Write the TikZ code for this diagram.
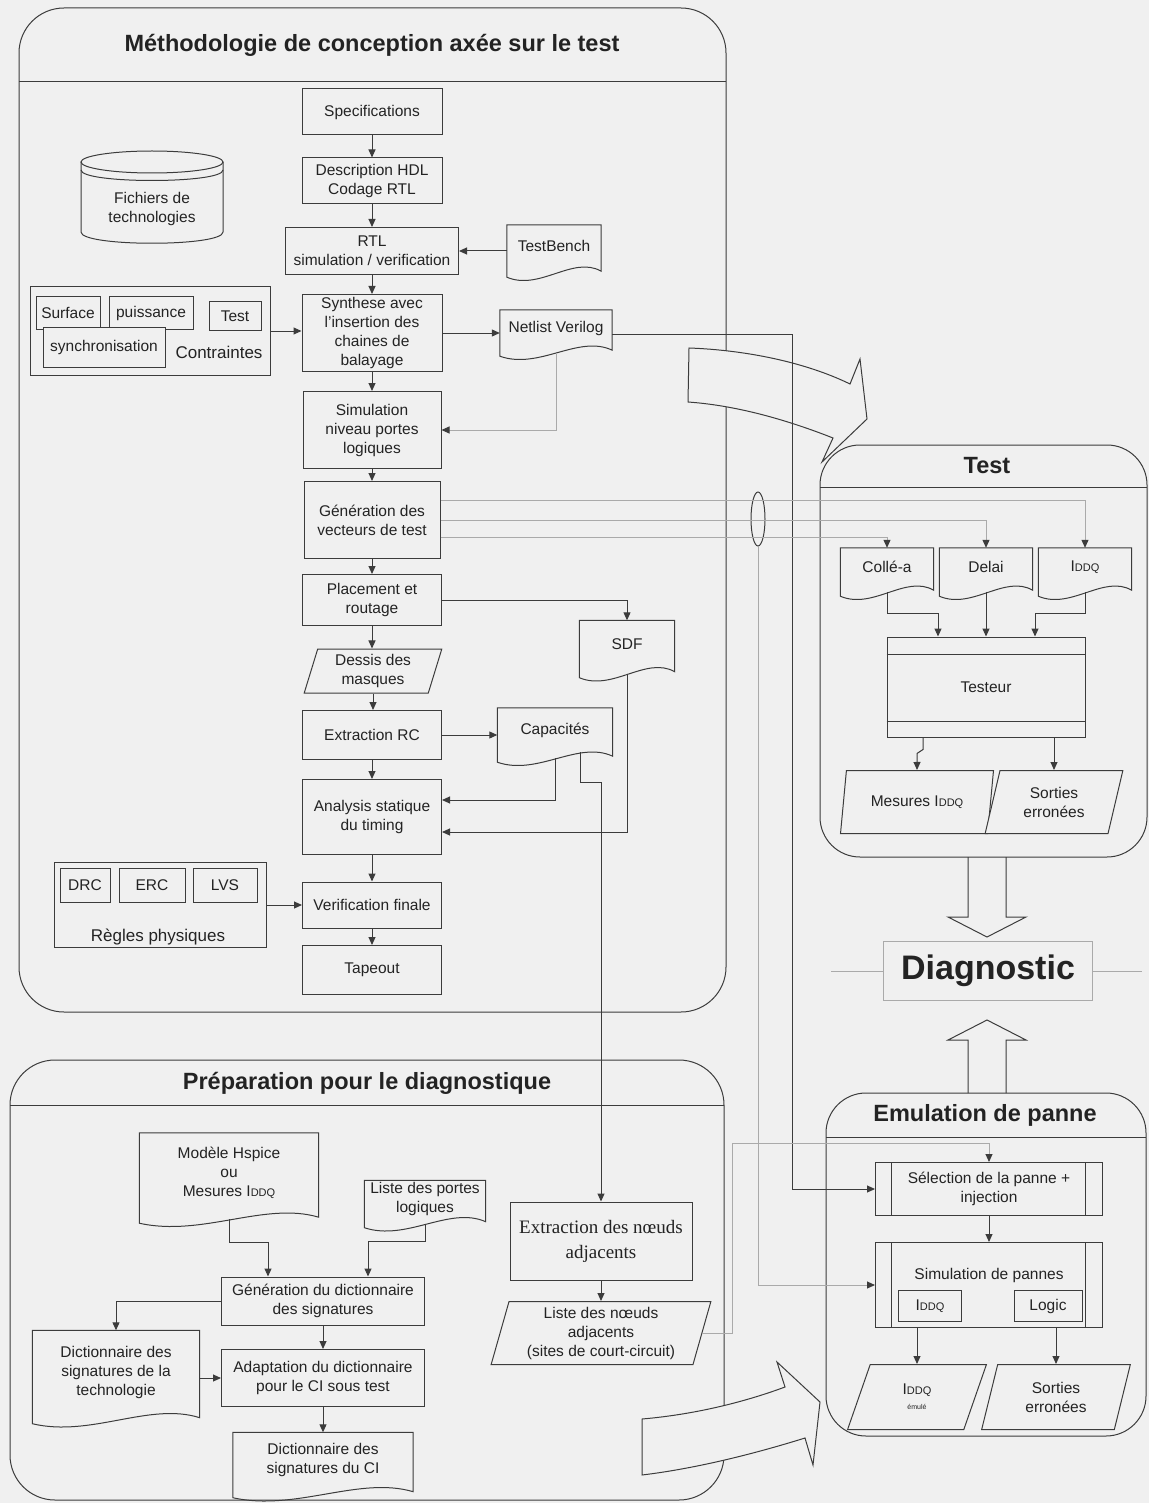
\documentclass[tikz,border=0pt]{standalone}
\usepackage{fontspec}
\setmainfont{Liberation Sans}
\newfontfamily\timesfam{Liberation Serif}
\usetikzlibrary{arrows.meta,shapes.geometric,calc}

\definecolor{bgc}{RGB}{240,240,240}
\definecolor{linec}{RGB}{60,60,60}
\definecolor{glinec}{RGB}{170,170,170}
\definecolor{txtc}{RGB}{35,35,35}

\newcommand{\iddq}{I{\fontsize{11}{12}\selectfont DDQ}}

\tikzset{
    line/.style={draw=linec, line width=1pt},
    box/.style={line, rectangle, fill=bgc, align=center, inner sep=1pt,
        text=txtc, font=\fontsize{15.5}{19}\selectfont},
    doc/.style={rectangle, align=center, inner sep=1pt, text=txtc,
        font=\fontsize{15.5}{19}\selectfont},
    para/.style={box, trapezium, trapezium left angle=75, trapezium right angle=105,
        trapezium stretches=true},
    panel/.style={line, rectangle, rounded corners=45pt},
    ptitle/.style={text=txtc, font=\bfseries\fontsize{23.5}{26}\selectfont},
    lbl/.style={text=txtc, font=\fontsize{17}{19}\selectfont},
    arr/.style={line, -{Triangle[width=7pt,length=8pt]}},
    garr/.style={draw=glinec, line width=1pt, -{Triangle[width=7pt,length=8pt,color=linec]}},
}

\begin{document}
\begin{tikzpicture}[x=1pt, y=-1pt]

        \useasboundingbox (0,0) rectangle (1149,1503);
        \fill[bgc] (0,0) rectangle (1149,1503);

        % panneaux
        \node[panel, minimum width=707, minimum height=1004] (ptop) at (372.5,510) {};
        \node[panel, minimum width=327, minimum height=412, rounded corners=40pt] (ptest) at (983.5,651) {};
        \node[panel, minimum width=320, minimum height=343, rounded corners=40pt] (pemu) at (986,1264.5) {};
        \node[panel, minimum width=714, minimum height=440] (pprep) at (367,1280) {};

        \draw[line] (19,82) -- (726,82);
        \draw[line] (820,487) -- (1147,487);
        \draw[line] (826,1137) -- (1146,1137);
        \draw[line] (10,1105) -- (724,1105);

        \node[ptitle] (ttop) at (372,45) {Méthodologie de conception axée sur le test};
        \node[ptitle] (ttest) at (987,466) {Test};
        \node[ptitle] (temu) at (985,1115) {Emulation de panne};
        \node[ptitle] (tprep) at (367,1083) {Préparation pour le diagnostique};

        % flot de conception
        \node[box, minimum width=140, minimum height=46] (spec) at (372,112) {Specifications};
        \node[box, minimum width=140, minimum height=46] (hdl) at (372,181) {Description HDL\\Codage RTL};
        \node[box, minimum width=173, minimum height=47] (rtl) at (372,251) {RTL\\simulation / verification};
        \node[box, minimum width=140, minimum height=77] (syn) at (372,333) {Synthese avec\\l'insertion des\\chaines de\\balayage};
        \node[box, minimum width=138, minimum height=77] (sim) at (372,430) {Simulation\\niveau portes\\logiques};
        \node[box, minimum width=136, minimum height=77] (gen) at (372,520) {Génération des\\vecteurs de test};
        \node[box, minimum width=139, minimum height=51] (pr) at (372,600) {Placement et\\routage};
        \node[para, minimum width=138, minimum height=44] (mask) at (373,671) {Dessis des\\masques};
        \node[box, minimum width=139, minimum height=49] (rc) at (372,735) {Extraction RC};
        \node[box, minimum width=139, minimum height=75] (sta) at (372,817) {Analysis statique\\du timing};
        \node[box, minimum width=139, minimum height=46] (vf) at (372,905) {Verification finale};
        \node[box, minimum width=139, minimum height=49] (tape) at (372,970) {Tapeout};

        \node[doc, minimum width=94, minimum height=42] (tb) at (554,246) {TestBench};
        \node[doc, minimum width=112, minimum height=36] (nv) at (556,328) {Netlist Verilog};
        \node[doc, minimum width=95, minimum height=47] (sdf) at (627,644) {SDF};
        \node[doc, minimum width=115, minimum height=44] (cap) at (555,730) {Capacités};

        % fichiers de technologies
        \node[doc, minimum width=142, minimum height=93] (tech) at (152,209) {Fichiers de\\technologies};
        \draw[line] (152,162) ellipse [x radius=71, y radius=11];
        \draw[line] (81,170) .. controls (81,184) and (223,184) .. (223,170);
        \draw[line] (81,162) -- (81,232) .. controls (81,247) and (223,247) .. (223,232) -- (223,162);

        % contraintes
        \node[box, minimum width=240, minimum height=88] (cst) at (150,331) {};
        \node[box, minimum width=64, minimum height=33] (sfc) at (68,313) {Surface};
        \node[box, minimum width=84, minimum height=33] (pui) at (151,313) {puissance};
        \node[box, minimum width=52, minimum height=28] (tst) at (235,316) {Test};
        \node[box, minimum width=122, minimum height=40] (syc) at (104,347) {synchronisation};
        \node[lbl] (ctr) at (219,352) {Contraintes};

        % regles physiques
        \node[box, minimum width=212, minimum height=85] (rgl) at (160,905) {};
        \node[box, minimum width=50, minimum height=34] (drc) at (85,885) {DRC};
        \node[box, minimum width=66, minimum height=34] (erc) at (152,885) {ERC};
        \node[box, minimum width=64, minimum height=34] (lvs) at (225,885) {LVS};
        \node[lbl] (rgt) at (158,937) {Règles physiques};

        % test
        \node[doc, minimum width=93, minimum height=38] (col) at (887,567) {Collé-a};
        \node[doc, minimum width=93, minimum height=38] (del) at (986,567) {Delai};
        \node[doc, minimum width=93, minimum height=38] (idq) at (1085,567) {\iddq};
        \node[box, minimum width=198, minimum height=100] (testeur) at (986,687) {Testeur};
        \draw[line] ([yshift=-18pt]testeur.north west) -- ([yshift=-18pt]testeur.north east);
        \draw[line] ([yshift=16pt]testeur.south west) -- ([yshift=16pt]testeur.south east);
        \node[para, minimum width=153, minimum height=63] (mes) at (917,802) {Mesures \iddq};
        \node[para, minimum width=138, minimum height=63] (sor) at (1054,802) {Sorties\\erronées};

        \node[ellipse, draw=linec, line width=1pt, minimum width=14, minimum height=54, inner sep=0pt] (bund) at (758,519) {};

        % diagnostic
        \node[draw=glinec, line width=1pt, minimum width=209, minimum height=59, text=txtc,
            font=\bfseries\fontsize{34}{36}\selectfont] (diag) at (988,971) {Diagnostic};
        \draw[draw=glinec, line width=0.8pt] (diag.west) -- ++(-52,0);
        \draw[draw=glinec, line width=0.8pt] (diag.east) -- ++(49,0);

        % emulation
        \node[box, minimum width=227, minimum height=53] (sel) at (989,1189) {Sélection de la panne +\\injection};
        \node[box, minimum width=227, minimum height=85] (simp) at (989,1285) {};
        \foreach \n in {sel, simp} {
            \draw[line] ([xshift=16pt]\n.north west) -- ([xshift=16pt]\n.south west);
            \draw[line] ([xshift=-18pt]\n.north east) -- ([xshift=-18pt]\n.south east);
        }
        \node[doc] (simt) at (989,1275) {Simulation de pannes};
        \node[box, minimum width=63, minimum height=31] (siddq) at (930,1306) {\iddq};
        \node[box, minimum width=68, minimum height=31] (slog) at (1048,1306) {Logic};
        \node[para, minimum width=139, minimum height=65] (iem) at (917,1397) {\iddq\\[-4pt]{\fontsize{7}{8}\selectfont émulé}};
        \node[para, minimum width=149, minimum height=65] (sor2) at (1056,1397) {Sorties\\erronées};

        % preparation
        \node[doc, minimum width=179, minimum height=80] (hsp) at (229,1173) {Modèle Hspice\\ou\\Mesures \iddq};
        \node[doc, minimum width=121, minimum height=37] (lpl) at (425,1199) {Liste des portes\\logiques};
        \node[box, minimum width=203, minimum height=48] (gdic) at (323,1301) {Génération du dictionnaire\\des signatures};
        \node[doc, minimum width=167, minimum height=83] (dtech) at (116,1372) {Dictionnaire des\\signatures de la\\technologie};
        \node[box, minimum width=203, minimum height=57] (adap) at (323,1378) {Adaptation du dictionnaire\\pour le CI sous test};
        \node[doc, minimum width=180, minimum height=55] (dci) at (323,1460) {Dictionnaire des\\signatures du CI};
        \node[box, minimum width=182, minimum height=78, font=\timesfam\fontsize{19}{25}\selectfont] (ena) at (601,1241) {Extraction des nœuds\\adjacents};
        \node[para, minimum width=220, minimum height=63] (lna) at (601,1333) {Liste des nœuds\\adjacents\\(sites de court-circuit)};

        % documents
        \foreach \d in {tb, nv, sdf, cap, col, del, idq, hsp, lpl, dtech, dci} {
            \draw[line] (\d.north west) -- (\d.north east) -- ($(\d.south east)+(0,4)$)
                .. controls ($(\d.south west)!0.7!(\d.south east)+(0,-12)$) and ($(\d.south west)!0.35!(\d.south east)+(0,24)$) .. ($(\d.south west)+(0,10)$) -- cycle;
        }

        % grandes fleches
        \draw[line, fill=bgc] (689,348) .. controls (745,350) and (805,362) .. (850,384) -- (860,359) -- (867,419)
            -- (822,462) -- (833,438) .. controls (800,425) and (745,406) .. (688,402) -- cycle;
        \draw[line, fill=bgc] (642,1419) .. controls (700,1414) and (750,1400) .. (785,1387) -- (777,1362) -- (820,1402)
            -- (813,1465) -- (805,1438) .. controls (760,1452) and (700,1468) .. (642,1475) -- cycle;
        \draw[line] (968,857) -- (968,917) -- (948,917) -- (987,937) -- (1026,917) -- (1006,917) -- (1006,857);
        \draw[line] (968,1093) -- (968,1040) -- (948,1040) -- (987,1020) -- (1026,1040) -- (1006,1040) -- (1006,1093);

        % liaisons
        \foreach \a/\b in {spec/hdl, hdl/rtl, rtl/syn, syn/sim, sim/gen, gen/pr, pr/mask, mask/rc, rc/sta, sta/vf, vf/tape,
                           sel/simp, gdic/adap, adap/dci, ena/lna} {
            \draw[arr] (\a.south) -- (\a.south |- \b.north);
        }
        \draw[arr] (tb.west |- rtl.east) -- (rtl.east);
        \draw[arr] (cst.east) -- (cst.east -| syn.west);
        \draw[arr] (syn.east) -- (syn.east -| nv.west);
        \draw[garr] ([yshift=-7pt]nv.south) |- (sim.east);
        \draw[arr] ([yshift=-6pt]nv.east) -- ++(180,0) |- (sel.west);
        \draw[arr] (pr.east) -| (sdf.north);
        \draw[arr] (rc.east) -- (rc.east -| cap.west);
        \draw[arr] ([yshift=-6pt]cap.south) |- ([yshift=17pt]sta.east);
        \draw[arr] ([yshift=-6pt]sdf.south) |- ([yshift=-15pt]sta.east);
        \draw[arr] ($(cap.south)+(25,0)$) -- ++(0,30) -| (ena.north);
        \draw[arr] (rgl.east) -- (rgl.east -| vf.west);

        \draw[garr] ([yshift=20pt]gen.east) -| (idq.north);
        \draw[garr] (gen.east) -| (del.north);
        \draw[garr] ([yshift=-17pt]gen.east) -| (col.north);
        \draw[garr] (bund.south) |- (simp.west);

        \draw[arr] ([yshift=-6pt]col.south) -- ++(0,21) -| ([xshift=-48pt]testeur.north);
        \draw[arr] ([yshift=-6pt]del.south) -- (del.south |- testeur.north);
        \draw[arr] ([yshift=-6pt]idq.south) -- ++(0,21) -| ([xshift=49pt]testeur.north);
        \draw[arr] ([xshift=-63pt]testeur.south) -- ++(0,12) -- ++(-6,4) -- (mes.north);
        \draw[arr] (sor.north |- testeur.south) -- (sor.north);
        \draw[arr] (iem.north |- simp.south) -- (iem.north);
        \draw[arr] (sor2.north |- simp.south) -- (sor2.north);

        \draw[arr] ([yshift=-6pt]hsp.south) -- ++(0,23) -| ([xshift=-55pt]gdic.north);
        \draw[arr] ([yshift=-6pt]lpl.south) -- ++(0,18) -| ([xshift=45pt]gdic.north);
        \draw[arr] (gdic.west) -| (dtech.north);
        \draw[arr] (adap.west -| dtech.east) -- (adap.west);
        \draw[garr] (lna.east) -- ++(30,0) |- ([yshift=19pt]sel.north) -- (sel.north);

\end{tikzpicture}
\end{document}
